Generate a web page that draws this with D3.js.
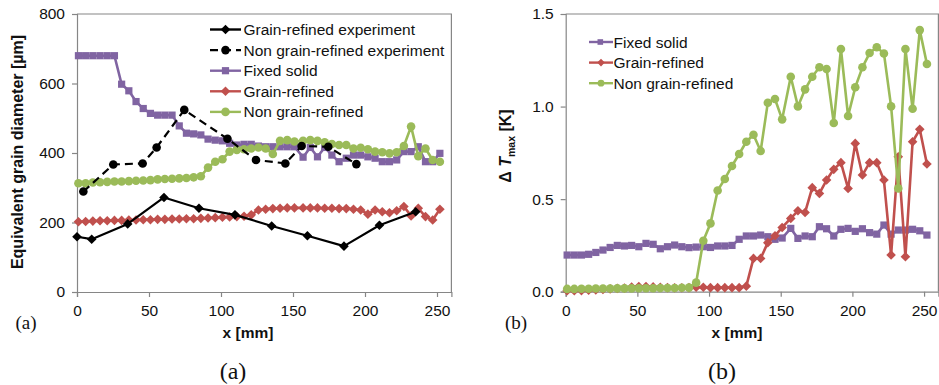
<!DOCTYPE html>
<html><head><meta charset="utf-8">
<script src="https://cdn.jsdelivr.net/npm/d3@7"></script>
<style>
body{margin:0;background:#fff;}
svg text{font-family:"Liberation Sans",Arial,sans-serif;}
</style></head>
<body><svg id="c" width="939" height="385"></svg>
<script>
// ---------- DATA ----------
const xs = [1,6,11,16,21,26,31,36,41,46,51,56,61,66,71,76,81,86,91,96,101,106,111,116,121,126,131,136,141,146,151,157,162,167,172,177,182,187,192,197,202,207,212,217,222,227,232,237,242,247,252];

// (a) Equivalent grain diameter [µm]
const aFixedSolid = [680,680,680,680,680,680,598,579,548,528,514,509,509,509,478,457,455,452,440,437,435,428,423,425,425,420,418,418,418,418,418,388,416,389,416,394,375,385,394,394,389,385,375,375,380,404,404,418,375,375,399];
const aGrainRefined = [202,203,204,205,205,206,206,207,207,208,208,209,209,210,210,211,211,212,213,214,215,216,217,218,222,236,238,240,241,242,242,242,242,242,241,241,240,240,238,236,224,236,231,228,234,246,219,241,217,207,238];
const aNonGrainRefined = [313,313,315,316,317,318,318,319,320,321,322,324,325,326,327,328,330,333,358,375,382,404,409,411,413,416,413,397,435,437,433,435,437,435,431,426,423,423,413,415,411,404,402,399,402,420,476,391,413,380,375];
const grExpX = [0,10.2,35.2,60.4,84.7,109.7,135.2,160,185.4,210,235.2];
const grExpY = [159,152,196,272,241,222,190,162,132,192,231];
const ngrExpX = [4.4,25.2,45.6,55.3,74.5,104.5,124.3,144.7,156,174.5,194];
const ngrExpY = [289,367,370,416,524,441,380,370,420,418,368];

// (b) ΔTmax [K]
const bFixedSolid = [0.198,0.198,0.198,0.202,0.212,0.225,0.239,0.250,0.247,0.250,0.243,0.261,0.256,0.232,0.243,0.252,0.243,0.238,0.241,0.243,0.239,0.247,0.247,0.250,0.283,0.301,0.301,0.306,0.297,0.283,0.290,0.342,0.288,0.301,0.297,0.351,0.340,0.301,0.337,0.342,0.326,0.340,0.319,0.311,0.360,0.311,0.333,0.333,0.337,0.329,0.306];
const bGrainRefined = [0.005,0.005,0.006,0.008,0.010,0.012,0.015,0.018,0.020,0.025,0.028,0.028,0.026,0.024,0.022,0.021,0.021,0.022,0.024,0.024,0.022,0.022,0.022,0.022,0.022,0.030,0.180,0.180,0.265,0.302,0.347,0.396,0.437,0.428,0.562,0.531,0.603,0.661,0.697,0.558,0.801,0.630,0.697,0.697,0.603,0.198,0.729,0.189,0.810,0.877,0.690];
const bNonGrainRefined = [0.015,0.015,0.016,0.016,0.017,0.017,0.017,0.018,0.018,0.018,0.019,0.019,0.019,0.020,0.020,0.020,0.021,0.022,0.049,0.275,0.369,0.547,0.609,0.679,0.744,0.810,0.848,0.760,1.021,1.041,0.931,1.161,1.001,1.093,1.161,1.212,1.203,0.911,1.311,0.949,1.104,1.212,1.289,1.320,1.287,1.001,0.558,1.311,0.988,1.413,1.230];

const xTicks = [0,50,100,150,200,250];
const aYTicks = [0,200,400,600,800];
const bYTicks = [0,0.5,1.0,1.5];

// ---------- STYLE ----------
const PURPLE="#8064A2", RED="#C0504D", GREEN="#9BBB59", AXIS="#868686", TXT="#111";
const FS = "15.5px";
const svg = d3.select("#c");

function marker(g, type, x, y, color){
  if(type==="square") g.append("rect").attr("x",x-3.6).attr("y",y-3.6).attr("width",7.2).attr("height",7.2).attr("fill",color);
  else if(type==="circle") g.append("circle").attr("cx",x).attr("cy",y).attr("r",4.3).attr("fill",color);
  else if(type==="diamond") g.append("path").attr("d",`M${x},${y-4.8}L${x+4.8},${y}L${x},${y+4.8}L${x-4.8},${y}Z`).attr("fill",color);
}

function series(g, X, Y, sx, sy, color, type, width, dash){
  const pts = X.map((x,i)=>[sx(x), sy(Y[i])]);
  g.append("path").attr("d", d3.line()(pts)).attr("fill","none").attr("stroke",color)
    .attr("stroke-width",width).attr("stroke-dasharray",dash||null).attr("stroke-linejoin","round");
  pts.forEach(p=>marker(g,type,p[0],p[1],color));
}

function frame(x0,x1,y0,y1,sx,sy,yTicks,yFmt){
  const g = svg.append("g");
  g.append("path").attr("d",`M${x0},${y1}H${x1}V${y0}`).attr("fill","none").attr("stroke",AXIS).attr("stroke-width",1.2);
  const ya = g.append("g").attr("transform",`translate(${x0},0)`).call(d3.axisLeft(sy).tickValues(yTicks).tickFormat(yFmt).tickSizeOuter(0).tickSize(5).tickPadding(7));
  const xa = g.append("g").attr("transform",`translate(0,${y0})`).call(d3.axisBottom(sx).tickValues(xTicks).tickSizeOuter(0).tickSize(5).tickPadding(8));
  [ya,xa].forEach(a=>{
    a.select(".domain").attr("stroke",AXIS).attr("stroke-width",1.2);
    a.selectAll(".tick line").attr("stroke",AXIS).attr("stroke-width",1.2);
    a.selectAll(".tick text").attr("fill",TXT).style("font-size",FS).style("font-family","Liberation Sans, Arial, sans-serif");
  });
  return g;
}

// ---------- CHART (a) ----------
const ax = d3.scaleLinear().domain([0,260]).range([77,451.4]);
const ay = d3.scaleLinear().domain([0,800]).range([292,14]);
frame(77,451.4,292,14,ax,ay,aYTicks,d3.format("d"));
const ga = svg.append("g");
series(ga, xs, aFixedSolid, ax, ay, PURPLE, "square", 2.6);
series(ga, xs, aGrainRefined, ax, ay, RED, "diamond", 2.6);
series(ga, xs, aNonGrainRefined, ax, ay, GREEN, "circle", 2.6);
series(ga, grExpX, grExpY, ax, ay, "#000", "diamond", 2.2);
series(ga, ngrExpX, ngrExpY, ax, ay, "#000", "circle", 2.2, "8,5");

const legA = [
  {t:"Grain-refined experiment", c:"#000", m:"diamond", d:null},
  {t:"Non grain-refined experiment", c:"#000", m:"circle", d:"8,5"},
  {t:"Fixed solid", c:PURPLE, m:"square", d:null},
  {t:"Grain-refined", c:RED, m:"diamond", d:null},
  {t:"Non grain-refined", c:GREEN, m:"circle", d:null}
];
legA.forEach((e,i)=>{
  const y = 29.5 + i*20.6;
  const g = svg.append("g");
  g.append("line").attr("x1",210).attr("x2",241).attr("y1",y).attr("y2",y).attr("stroke",e.c).attr("stroke-width",2.4).attr("stroke-dasharray",e.d);
  marker(g,e.m,225.5,y,e.c);
  g.append("text").attr("x",243.5).attr("y",y+5.5).attr("fill",TXT).style("font-size",FS).text(e.t);
});

svg.append("text").attr("transform","translate(23,152) rotate(-90)").attr("text-anchor","middle")
  .attr("fill",TXT).style("font-size","16px").style("font-weight","bold").text("Equivalent grain diameter [µm]");
svg.append("text").attr("x",248).attr("y",338).attr("text-anchor","middle").attr("fill",TXT)
  .style("font-size",FS).style("font-weight","bold").text("x [mm]");
svg.append("text").attr("x",26).attr("y",329).attr("text-anchor","middle").attr("fill","#111")
  .style("font-family","Liberation Serif, DejaVu Serif, serif").style("font-size","19px").text("(a)");
svg.append("text").attr("x",233).attr("y",379).attr("text-anchor","middle").attr("fill","#111")
  .style("font-family","Liberation Serif, DejaVu Serif, serif").style("font-size","24px").text("(a)");

// ---------- CHART (b) ----------
const bx = d3.scaleLinear().domain([0,260]).range([565.7,938.4]);
const by = d3.scaleLinear().domain([0,1.5]).range([291.7,14]);
frame(565.7,938.4,291.7,14,bx,by,bYTicks,d3.format(".1f"));
const gb = svg.append("g");
series(gb, xs, bFixedSolid, bx, by, PURPLE, "square", 2.6);
series(gb, xs, bGrainRefined, bx, by, RED, "diamond", 2.6);
series(gb, xs, bNonGrainRefined, bx, by, GREEN, "circle", 2.6);

const legB = [
  {t:"Fixed solid", c:PURPLE, m:"square"},
  {t:"Grain-refined", c:RED, m:"diamond"},
  {t:"Non grain-refined", c:GREEN, m:"circle"}
];
legB.forEach((e,i)=>{
  const y = 42 + i*20.6;
  const g = svg.append("g");
  g.append("line").attr("x1",589).attr("x2",613).attr("y1",y).attr("y2",y).attr("stroke",e.c).attr("stroke-width",2.4);
  if(e.m==="square") g.append("rect").attr("x",597.5).attr("y",y-2.8).attr("width",5.6).attr("height",5.6).attr("fill",e.c);
  else if(e.m==="circle") g.append("circle").attr("cx",601).attr("cy",y).attr("r",3.4).attr("fill",e.c);
  else g.append("path").attr("d",`M601,${y-3.8}L604.8,${y}L601,${y+3.8}L597.2,${y}Z`).attr("fill",e.c);
  g.append("text").attr("x",613.5).attr("y",y+5.5).attr("fill",TXT).style("font-size",FS).text(e.t);
});

const yt = svg.append("text").attr("transform","translate(511,146) rotate(-90)").attr("text-anchor","middle")
  .attr("fill",TXT).style("font-size","16px").style("font-weight","bold");
yt.append("tspan").text("Δ");
yt.append("tspan").style("font-style","italic").text(" T");
yt.append("tspan").style("font-size","10.5px").attr("dy",4).text("max");
yt.append("tspan").attr("dy",-4).text(" [K]");
svg.append("text").attr("x",737).attr("y",338).attr("text-anchor","middle").attr("fill",TXT)
  .style("font-size",FS).style("font-weight","bold").text("x [mm]");
svg.append("text").attr("x",516).attr("y",329).attr("text-anchor","middle").attr("fill","#111")
  .style("font-family","Liberation Serif, DejaVu Serif, serif").style("font-size","19px").text("(b)");
svg.append("text").attr("x",722).attr("y",379).attr("text-anchor","middle").attr("fill","#111")
  .style("font-family","Liberation Serif, DejaVu Serif, serif").style("font-size","24px").text("(b)");
</script></body></html>
